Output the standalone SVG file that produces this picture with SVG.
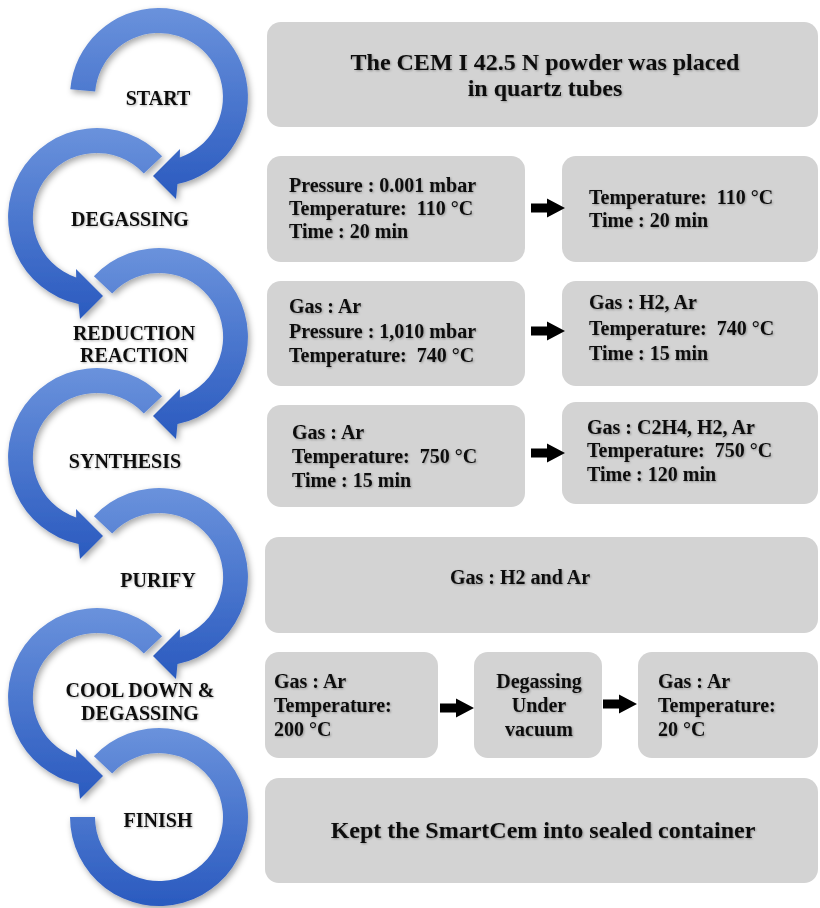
<svg xmlns="http://www.w3.org/2000/svg" width="820" height="908" viewBox="0 0 820 908">
<style>
.box{fill:#d3d3d3}
.t{font-family:"Liberation Serif","Times New Roman",serif;font-weight:bold;font-size:20px;fill:#111}
.big{font-size:24px}
.c{text-anchor:middle}
.ring{fill:url(#blueGrad);filter:url(#ringShadow)}
.arw{fill:#000}
</style>
<defs>
<linearGradient id="blueGrad" x1="0" y1="0" x2="0" y2="1">
<stop offset="0" stop-color="#6a92dc"/>
<stop offset="1" stop-color="#2a5abf"/>
</linearGradient>
<filter id="ringShadow" x="-20%" y="-20%" width="140%" height="140%">
<feDropShadow dx="2" dy="3" stdDeviation="3" flood-color="#000" flood-opacity="0.35"/>
</filter>
<filter id="txtShadow" x="-5%" y="-20%" width="110%" height="140%">
<feDropShadow dx="1" dy="1" stdDeviation="0.8" flood-color="#000" flood-opacity="0.3"/>
</filter>
<path id="blk" d="M0,-4.5 L16,-4.5 L16,-9.5 L34,0 L16,9.5 L16,4.5 L0,4.5 Z"/>
</defs>

<!-- left cycle rings -->
<g id="ring-start" transform="translate(159,97)">
<path class="ring" d="M-88.7,-7.8 A89,89 0 1 1 18.5,87.1 L17,102 L-6,79 L21,52 L20.8,60.5 A64,64 0 1 0 -63.8,-5.6 Z"/>
</g>
<g id="ring-degassing" transform="translate(97,217)">
<path class="ring" d="M65.1,-60.7 A89,89 0 1 0 -18.5,87.1 L-17,102 L6,79 L-21,52 L-20.8,60.5 A64,64 0 1 1 46.8,-43.6 Z"/>
</g>
<g id="ring-reduction" transform="translate(159,337)">
<path class="ring" d="M-65.1,-60.7 A89,89 0 1 1 18.5,87.1 L17,102 L-6,79 L21,52 L20.8,60.5 A64,64 0 1 0 -46.8,-43.6 Z"/>
</g>
<g id="ring-synthesis" transform="translate(97,457)">
<path class="ring" d="M65.1,-60.7 A89,89 0 1 0 -18.5,87.1 L-17,102 L6,79 L-21,52 L-20.8,60.5 A64,64 0 1 1 46.8,-43.6 Z"/>
</g>
<g id="ring-purify" transform="translate(159,577)">
<path class="ring" d="M-65.1,-60.7 A89,89 0 1 1 18.5,87.1 L17,102 L-6,79 L21,52 L20.8,60.5 A64,64 0 1 0 -46.8,-43.6 Z"/>
</g>
<g id="ring-cooldown" transform="translate(97,697)">
<path class="ring" d="M65.1,-60.7 A89,89 0 1 0 -18.5,87.1 L-17,102 L6,79 L-21,52 L-20.8,60.5 A64,64 0 1 1 46.8,-43.6 Z"/>
</g>
<g id="ring-finish" transform="translate(159,817)">
<path class="ring" d="M-65.1,-60.7 A89,89 0 1 1 -89,0 L-64,0 A64,64 0 1 0 -46.8,-43.6 Z"/>
</g>

<!-- stage labels -->
<g id="labels" class="t c" filter="url(#txtShadow)">
<text x="158" y="105">START</text>
<text x="130" y="226">DEGASSING</text>
<text x="134" y="340">REDUCTION</text>
<text x="134" y="362">REACTION</text>
<text x="125" y="468">SYNTHESIS</text>
<text x="158" y="587">PURIFY</text>
<text x="140" y="697">COOL DOWN &amp;</text>
<text x="140" y="720">DEGASSING</text>
<text x="158" y="827">FINISH</text>
</g>

<!-- boxes -->
<g id="box-start">
<rect class="box" x="267" y="22" width="551" height="105" rx="14"/>
<text class="t big c" filter="url(#txtShadow)" x="545" y="70">The CEM I 42.5 N powder was placed</text>
<text class="t big c" filter="url(#txtShadow)" x="545" y="96">in quartz tubes</text>
</g>
<g id="box-degas-1">
<rect class="box" x="267" y="156" width="258" height="106" rx="14"/>
<g class="t" filter="url(#txtShadow)">
<text x="289" y="192">Pressure : 0.001 mbar</text>
<text x="289" y="215">Temperature:&#160; 110 °C</text>
<text x="289" y="238">Time : 20 min</text>
</g>
</g>
<g id="box-degas-2">
<rect class="box" x="562" y="156" width="256" height="106" rx="14"/>
<g class="t" filter="url(#txtShadow)">
<text x="589" y="204">Temperature:&#160; 110 °C</text>
<text x="589" y="227">Time : 20 min</text>
</g>
</g>
<g id="box-red-1">
<rect class="box" x="267" y="281" width="258" height="105" rx="14"/>
<g class="t" filter="url(#txtShadow)">
<text x="289" y="313">Gas : Ar</text>
<text x="289" y="338">Pressure : 1,010 mbar</text>
<text x="289" y="362">Temperature:&#160; 740 °C</text>
</g>
</g>
<g id="box-red-2">
<rect class="box" x="562" y="281" width="256" height="105" rx="14"/>
<g class="t" filter="url(#txtShadow)">
<text x="589" y="309">Gas : H2, Ar</text>
<text x="589" y="335">Temperature:&#160; 740 °C</text>
<text x="589" y="360">Time : 15 min</text>
</g>
</g>
<g id="box-syn-1">
<rect class="box" x="267" y="405" width="258" height="102" rx="14"/>
<g class="t" filter="url(#txtShadow)">
<text x="292" y="439">Gas : Ar</text>
<text x="292" y="463">Temperature:&#160; 750 °C</text>
<text x="292" y="487">Time : 15 min</text>
</g>
</g>
<g id="box-syn-2">
<rect class="box" x="562" y="402" width="256" height="102" rx="14"/>
<g class="t" filter="url(#txtShadow)">
<text x="587" y="434">Gas : C2H4, H2, Ar</text>
<text x="587" y="457">Temperature:&#160; 750 °C</text>
<text x="587" y="481">Time : 120 min</text>
</g>
</g>
<g id="box-purify">
<rect class="box" x="265" y="537" width="553" height="96" rx="14"/>
<text class="t c" filter="url(#txtShadow)" x="520" y="584">Gas : H2 and Ar</text>
</g>
<g id="box-cool-1">
<rect class="box" x="265" y="652" width="173" height="106" rx="14"/>
<g class="t" filter="url(#txtShadow)">
<text x="274" y="688">Gas : Ar</text>
<text x="274" y="712">Temperature:</text>
<text x="274" y="736">200 °C</text>
</g>
</g>
<g id="box-cool-2">
<rect class="box" x="474" y="652" width="128" height="106" rx="14"/>
<g class="t c" filter="url(#txtShadow)">
<text x="539" y="688">Degassing</text>
<text x="539" y="712">Under</text>
<text x="539" y="736">vacuum</text>
</g>
</g>
<g id="box-cool-3">
<rect class="box" x="638" y="652" width="180" height="106" rx="14"/>
<g class="t" filter="url(#txtShadow)">
<text x="658" y="688">Gas : Ar</text>
<text x="658" y="712">Temperature:</text>
<text x="658" y="736">20 °C</text>
</g>
</g>
<g id="box-finish">
<rect class="box" x="265" y="778" width="553" height="105" rx="14"/>
<text class="t big c" filter="url(#txtShadow)" x="543" y="838">Kept the SmartCem into sealed container</text>
</g>

<!-- connectors -->
<g id="connectors" class="arw">
<use href="#blk" x="531" y="208"/>
<use href="#blk" x="531" y="331"/>
<use href="#blk" x="531" y="453"/>
<use href="#blk" x="440" y="708"/>
<use href="#blk" x="603" y="704"/>
</g>
</svg>
